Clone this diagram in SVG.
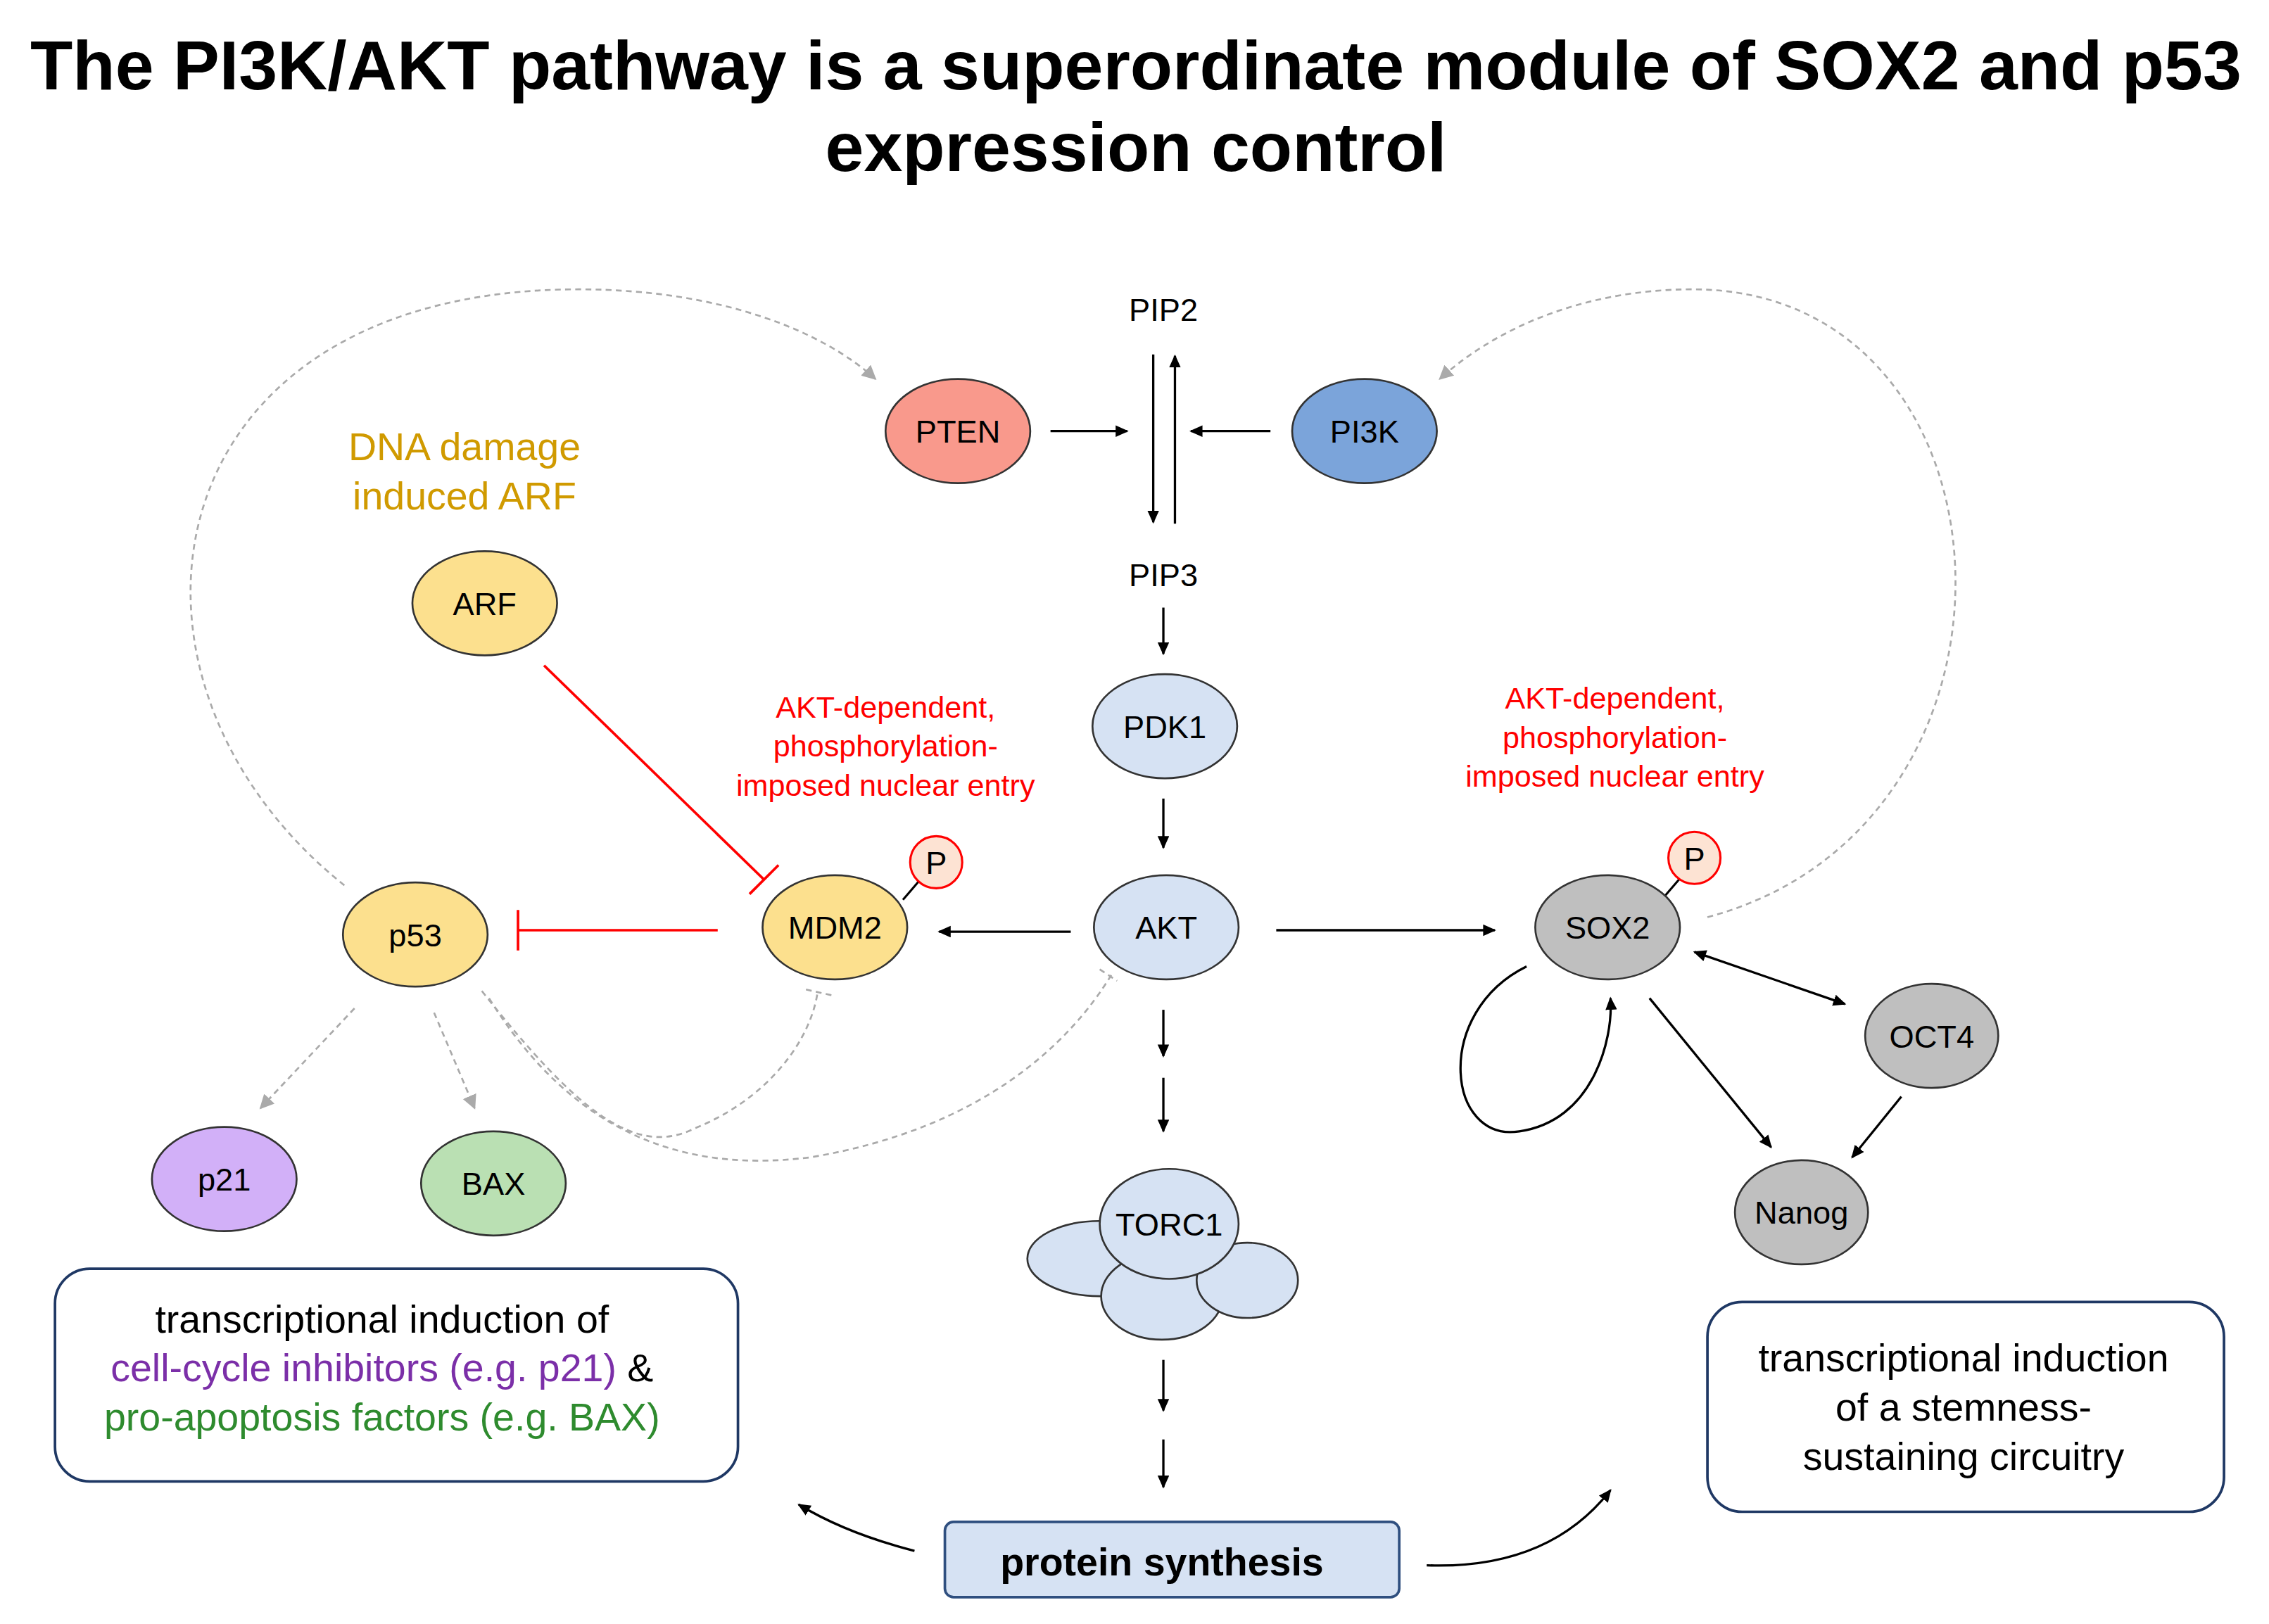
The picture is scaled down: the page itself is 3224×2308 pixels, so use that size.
<svg xmlns="http://www.w3.org/2000/svg" width="3224" height="2308" viewBox="0 0 3224 2308">
<style>
text{font-family:"Liberation Sans",Arial,sans-serif;text-anchor:middle}
.n{stroke:#333;stroke-width:1.3}
.t{font-size:22px;fill:#000}
.a{stroke:#000;stroke-width:1.6;fill:none;marker-end:url(#ah)}
.d{stroke:#aaa;stroke-width:1.3;stroke-dasharray:4 3;fill:none}
.r{font-size:21px;fill:#f00}
</style>
<defs>
<marker id="ah" markerWidth="10" markerHeight="10" refX="8" refY="4" orient="auto" markerUnits="userSpaceOnUse"><path d="M0,0 L9,4 L0,8 z" fill="#000"/></marker>
<marker id="ahs" markerWidth="10" markerHeight="10" refX="1" refY="4" orient="auto" markerUnits="userSpaceOnUse"><path d="M9,0 L0,4 L9,8 z" fill="#000"/></marker>
<marker id="gh" markerWidth="12" markerHeight="12" refX="9" refY="5" orient="auto" markerUnits="userSpaceOnUse"><path d="M0,0 L10,5 L0,10 z" fill="#aaa"/></marker>
</defs>
<rect width="3224" height="2308" fill="#fff"/>
<g transform="scale(2.056)">
<text x="785" y="62" style="font-size:48px;font-weight:bold">The PI3K/AKT pathway is a superordinate module of SOX2 and p53</text>
<text x="785" y="118" style="font-size:48px;font-weight:bold">expression control</text>

<g id="connectors">
<line class="a" x1="797" y1="245" x2="797" y2="361"/>
<line class="a" x1="812" y1="362" x2="812" y2="246"/>
<line class="a" x1="726" y1="298" x2="779" y2="298"/>
<line class="a" x1="878" y1="298" x2="823" y2="298"/>
<line class="a" x1="804" y1="420" x2="804" y2="452"/>
<line class="a" x1="804" y1="552" x2="804" y2="586"/>
<line class="a" x1="740" y1="644" x2="649" y2="644"/>
<line class="a" x1="882" y1="643" x2="1033" y2="643"/>
<line class="a" x1="804" y1="698" x2="804" y2="730"/>
<line class="a" x1="804" y1="745" x2="804" y2="782"/>
<line class="a" x1="804" y1="940" x2="804" y2="975"/>
<line class="a" x1="804" y1="995" x2="804" y2="1028"/>
<path class="a" d="M632,1072 Q585,1060 552,1040"/>
<path class="a" d="M986,1082 Q1070,1085 1113,1030"/>
<line class="a" style="marker-start:url(#ahs)" x1="1171" y1="658" x2="1275" y2="694"/>
<line class="a" x1="1140" y1="690" x2="1224" y2="793"/>
<line class="a" x1="1314" y1="758" x2="1280" y2="800"/>
<path class="a" d="M1055,668 C990,700 1000,790 1050,782 C1100,775 1115,720 1113,690"/>
<line stroke="#f00" stroke-width="1.8" x1="496" y1="643" x2="358" y2="643"/>
<line stroke="#f00" stroke-width="1.8" x1="358" y1="629" x2="358" y2="657"/>
<line stroke="#f00" stroke-width="1.8" x1="376" y1="460" x2="528" y2="608"/>
<line stroke="#f00" stroke-width="1.8" x1="518" y1="618" x2="538" y2="598"/>
<path class="d" style="marker-end:url(#gh)" d="M238,612 C60,470 100,200 400,200 C500,200 570,230 605,262"/>
<path class="d" style="marker-end:url(#gh)" d="M1180,634 C1420,570 1400,200 1170,200 C1090,200 1030,230 995,262"/>
<line class="d" style="marker-end:url(#gh)" x1="245" y1="697" x2="180" y2="766"/>
<line class="d" style="marker-end:url(#gh)" x1="300" y1="700" x2="328" y2="766"/>
<path class="d" d="M333,685 C400,770 440,800 480,780 C530,760 560,720 565,686"/>
<line class="d" x1="557" y1="684" x2="575" y2="688"/>
<path class="d" d="M338,690 C400,790 480,810 560,800 C680,780 740,720 768,674"/>
<line class="d" x1="760" y1="670" x2="772" y2="678"/>
<line stroke="#000" stroke-width="1.5" x1="624" y1="622" x2="636" y2="608"/>
<line stroke="#000" stroke-width="1.5" x1="1150" y1="620" x2="1162" y2="606"/>
</g>

<text class="t" x="804" y="222">PIP2</text>
<text class="t" x="804" y="405">PIP3</text>
<g id="PTEN"><ellipse class="n" cx="662" cy="298" rx="50" ry="36" fill="#F9998C"/><text class="t" x="662" y="306">PTEN</text></g>
<g id="PI3K"><ellipse class="n" cx="943" cy="298" rx="50" ry="36" fill="#7BA4DA"/><text class="t" x="943" y="306">PI3K</text></g>
<g id="PDK1"><ellipse class="n" cx="805" cy="502" rx="50" ry="36" fill="#D6E2F3"/><text class="t" x="805" y="510">PDK1</text></g>
<g id="AKT"><ellipse class="n" cx="806" cy="641" rx="50" ry="36" fill="#D6E2F3"/><text class="t" x="806" y="649">AKT</text></g>
<g id="MDM2"><ellipse class="n" cx="577" cy="641" rx="50" ry="36" fill="#FCE08E"/><text class="t" x="577" y="649">MDM2</text>
<circle cx="647" cy="596" r="18" fill="#FDE3D3" stroke="#f00" stroke-width="1.5"/><text class="t" x="647" y="604">P</text></g>
<g id="p53"><ellipse class="n" cx="287" cy="646" rx="50" ry="36" fill="#FCE08E"/><text class="t" x="287" y="654">p53</text></g>
<g id="ARF"><ellipse class="n" cx="335" cy="417" rx="50" ry="36" fill="#FCE08E"/><text class="t" x="335" y="425">ARF</text></g>
<text x="321" y="318" style="font-size:27px;fill:#D09A00">DNA damage</text>
<text x="321" y="352" style="font-size:27px;fill:#D09A00">induced ARF</text>
<text class="r" x="612" y="496">AKT-dependent,</text>
<text class="r" x="612" y="523">phosphorylation-</text>
<text class="r" x="612" y="550">imposed nuclear entry</text>
<text class="r" x="1116" y="490">AKT-dependent,</text>
<text class="r" x="1116" y="517">phosphorylation-</text>
<text class="r" x="1116" y="544">imposed nuclear entry</text>
<g id="SOX2"><ellipse class="n" cx="1111" cy="641" rx="50" ry="36" fill="#BFBFBF"/><text class="t" x="1111" y="649">SOX2</text>
<circle cx="1171" cy="593" r="18" fill="#FDE3D3" stroke="#f00" stroke-width="1.5"/><text class="t" x="1171" y="601">P</text></g>
<g id="OCT4"><ellipse class="n" cx="1335" cy="716" rx="46" ry="36" fill="#BFBFBF"/><text class="t" x="1335" y="724">OCT4</text></g>
<g id="Nanog"><ellipse class="n" cx="1245" cy="838" rx="46" ry="36" fill="#BFBFBF"/><text class="t" x="1245" y="846">Nanog</text></g>
<g id="p21"><ellipse class="n" cx="155" cy="815" rx="50" ry="36" fill="#D2B0F8"/><text class="t" x="155" y="823">p21</text></g>
<g id="BAX"><ellipse class="n" cx="341" cy="818" rx="50" ry="36" fill="#BAE0B3"/><text class="t" x="341" y="826">BAX</text></g>
<g id="TORC1">
<ellipse class="n" cx="760" cy="870" rx="50" ry="26" fill="#D6E2F3"/>
<ellipse class="n" cx="803" cy="896" rx="42" ry="30" fill="#D6E2F3"/>
<ellipse class="n" cx="862" cy="885" rx="35" ry="26" fill="#D6E2F3"/>
<ellipse class="n" cx="808" cy="846" rx="48" ry="38" fill="#D6E2F3"/>
<text class="t" x="808" y="854">TORC1</text></g>
<g id="protein"><rect x="653" y="1052" width="314" height="52" rx="6" fill="#D6E2F3" stroke="#2F4F7F" stroke-width="1.8"/>
<text x="803" y="1089" style="font-size:27px;font-weight:bold">protein synthesis</text></g>
<g id="leftbox"><rect x="38" y="877" width="472" height="147" rx="24" fill="#fff" stroke="#1F3864" stroke-width="1.8"/>
<text x="264" y="921" style="font-size:27px">transcriptional induction of</text>
<text x="264" y="955" style="font-size:27px"><tspan fill="#7B2FA8">cell-cycle inhibitors (e.g. p21)</tspan> &amp;</text>
<text x="264" y="989" style="font-size:27px;fill:#2E8B2E">pro-apoptosis factors (e.g. BAX)</text></g>
<g id="rightbox"><rect x="1180" y="900" width="357" height="145" rx="24" fill="#fff" stroke="#1F3864" stroke-width="1.8"/>
<text x="1357" y="948" style="font-size:27px">transcriptional induction</text>
<text x="1357" y="982" style="font-size:27px">of a stemness-</text>
<text x="1357" y="1016" style="font-size:27px">sustaining circuitry</text></g>
</g>
</svg>
